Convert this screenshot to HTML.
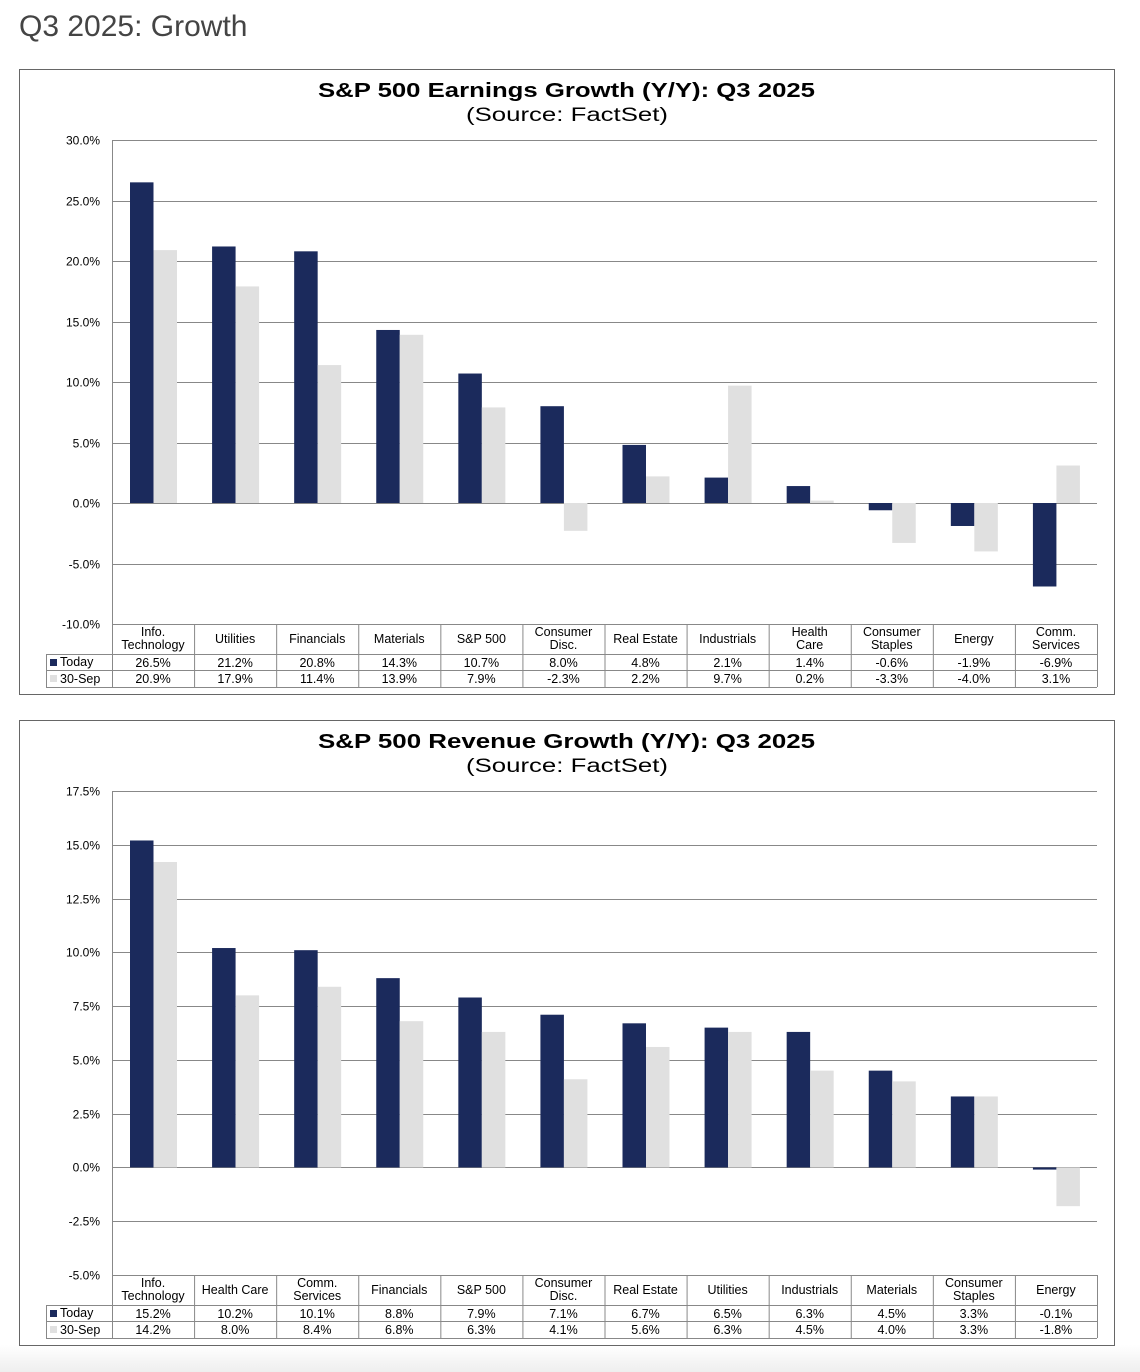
<!DOCTYPE html>
<html><head><meta charset="utf-8">
<style>
html,body{margin:0;padding:0;width:1140px;height:1372px;overflow:hidden;background:linear-gradient(to bottom,#fff 0,#fff 1345px,#eeeeee 1372px);font-family:"Liberation Sans",Arial,sans-serif;}
h1{position:absolute;left:19px;top:10px;margin:0;font-weight:normal;font-size:30px;color:#444;}
svg{position:absolute;left:0;top:0;}
</style></head><body>
<h1>Q3 2025: Growth</h1>
<svg id="s" width="1140" height="1372" xmlns="http://www.w3.org/2000/svg" font-family="Liberation Sans, Arial, sans-serif"></svg>
<script>
var S=document.getElementById('s'),out='';
function chart(o){
 var L=112,R=1097,cw=(R-L)/12;
 out+='<rect x="19.5" y="'+(o.by+.5)+'" width="1095" height="625" fill="#fff" stroke="#666"/>';
 out+='<text x="318" y="'+(o.by+28)+'" font-size="20" font-weight="bold" fill="#000" textLength="497" lengthAdjust="spacingAndGlyphs">'+o.title+'</text>';
 out+='<text x="466" y="'+(o.by+52)+'" font-size="19" fill="#000" textLength="202" lengthAdjust="spacingAndGlyphs">(Source: FactSet)</text>';
 var ppu=(o.bot-o.top)/(o.max-o.min),z=o.top+o.max*ppu;
 for(var v=o.max;v>=o.min-1e-9;v-=o.step){
  var y=Math.round(o.top+(o.max-v)*ppu)+.5;
  out+='<line x1="'+L+'" x2="'+R+'" y1="'+y+'" y2="'+y+'" stroke="#888" stroke-width="1"/>';
  out+='<text x="100" y="'+(y+4)+'" text-anchor="end" font-size="12" fill="#000">'+v.toFixed(1)+'%</text>';
 }
 out+='<line x1="'+(L+.5)+'" x2="'+(L+.5)+'" y1="'+o.top+'" y2="'+o.bot+'" stroke="#888"/>';
 for(var i=0;i<12;i++){
  var x=L+i*cw,a=o.t[i],b=o.p[i];
  var ya=z-a*ppu,yb=z-b*ppu;
  out+='<rect x="'+(x+18)+'" y="'+Math.min(ya,z)+'" width="23.5" height="'+Math.max(Math.abs(z-ya),1)+'" fill="#1b2a5c"/>';
  out+='<rect x="'+(x+41.5)+'" y="'+Math.min(yb,z)+'" width="23.5" height="'+Math.max(Math.abs(z-yb),1)+'" fill="#e0e0e0"/>';
  var c=x+cw/2,lab=o.c[i].split('|'),h=o.bot;
  if(lab.length==1) out+='<text x="'+c+'" y="'+(h+19)+'" text-anchor="middle" font-size="12.5">'+lab[0]+'</text>';
  else{out+='<text x="'+c+'" y="'+(h+12)+'" text-anchor="middle" font-size="12.5">'+lab[0]+'</text>';out+='<text x="'+c+'" y="'+(h+25)+'" text-anchor="middle" font-size="12.5">'+lab[1]+'</text>';}
  out+='<text x="'+c+'" y="'+(h+43)+'" text-anchor="middle" font-size="12.5">'+a.toFixed(1)+'%</text>';
  out+='<text x="'+c+'" y="'+(h+59)+'" text-anchor="middle" font-size="12.5">'+b.toFixed(1)+'%</text>';
  out+='<line x1="'+(x+cw+.5)+'" x2="'+(x+cw+.5)+'" y1="'+h+'" y2="'+(h+63)+'" stroke="#888"/>';
 }
 var h=o.bot;
 [h+30,h+46,h+63].forEach(function(y){out+='<line x1="46" x2="'+R+'" y1="'+(y+.5)+'" y2="'+(y+.5)+'" stroke="#888"/>';});
 out+='<line x1="46.5" x2="46.5" y1="'+(h+30)+'" y2="'+(h+63)+'" stroke="#888"/>';
 out+='<line x1="'+(L+.5)+'" x2="'+(L+.5)+'" y1="'+h+'" y2="'+(h+63)+'" stroke="#888"/>';
 out+='<rect x="50" y="'+(h+35)+'" width="7" height="7" fill="#1b2a5c"/><text x="60" y="'+(h+42)+'" font-size="12.5">Today</text>';
 out+='<rect x="50" y="'+(h+51)+'" width="7" height="7" fill="#e0e0e0"/><text x="60" y="'+(h+59)+'" font-size="12.5">30-Sep</text>';
}
chart({by:69,title:'S&amp;P 500 Earnings Growth (Y/Y): Q3 2025',top:140,bot:624,max:30,min:-10,step:5,
 c:['Info.|Technology','Utilities','Financials','Materials','S&amp;P 500','Consumer|Disc.','Real Estate','Industrials','Health|Care','Consumer|Staples','Energy','Comm.|Services'],
 t:[26.5,21.2,20.8,14.3,10.7,8.0,4.8,2.1,1.4,-0.6,-1.9,-6.9],
 p:[20.9,17.9,11.4,13.9,7.9,-2.3,2.2,9.7,0.2,-3.3,-4.0,3.1]});
chart({by:720,title:'S&amp;P 500 Revenue Growth (Y/Y): Q3 2025',top:791,bot:1275,max:17.5,min:-5,step:2.5,
 c:['Info.|Technology','Health Care','Comm.|Services','Financials','S&amp;P 500','Consumer|Disc.','Real Estate','Utilities','Industrials','Materials','Consumer|Staples','Energy'],
 t:[15.2,10.2,10.1,8.8,7.9,7.1,6.7,6.5,6.3,4.5,3.3,-0.1],
 p:[14.2,8.0,8.4,6.8,6.3,4.1,5.6,6.3,4.5,4.0,3.3,-1.8]});
S.innerHTML=out;
</script>
</body></html>
